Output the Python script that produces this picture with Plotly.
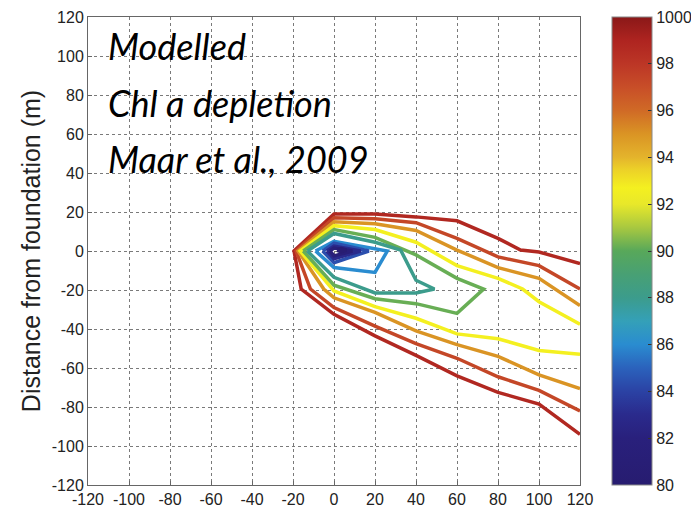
import plotly.graph_objects as go
from plotly.colors import sample_colorscale

# ---------------- data ----------------
x_ticks = [-120, -100, -80, -60, -40, -20, 0, 20, 40, 60, 80, 100, 120]
y_ticks = [-120, -100, -80, -60, -40, -20, 0, 20, 40, 60, 80, 100, 120]
tick_text = ["-120", "-100", "-80", "-60", "-40", "-20", "0", "20", "40", "60", "80", "100", "120"]
cbar_ticks = [80, 82, 84, 86, 88, 90, 92, 94, 96, 98, 100]
cbar_text = ["80", "82", "84", "86", "88", "90", "92", "94", "96", "98", "1000"]

# contour levels (Chl a, % of background)
levels = [98.8, 97.3, 95.0, 92.7, 90.2, 88.0, 86.0, 84.4, 83.0, 81.5, 80.5]

c1_x = [120, 100, 91, 80, 60, 40, 20, 0, -19.5, -16, 0, 20, 40, 60, 80, 100, 120]
c1_y = [-6.5, -0.5, 0.5, 6.5, 15.5, 17.5, 19, 19, 0, -19.5, -32.5, -43.5, -53.5, -64, -72.5, -78.5, -94]

c2_x = [120, 100, 80, 60, 40, 20, 0, -18.5, -11.5, 0, 20, 40, 60, 80, 100, 120]
c2_y = [-19.5, -7.5, -3, 6.5, 14.5, 16.5, 17, 0, -19.5, -29, -38.5, -47.5, -55, -64.5, -71.5, -82]

c3_x = [120, 100, 80, 60, 40, 20, 0, -17.5, -5, 0, 20, 40, 60, 80, 100, 120]
c3_y = [-28, -14, -8.5, 0.5, 10.5, 14, 15, 0, -19.5, -24, -31.5, -41, -48, -54, -63.5, -70.5]

c4_x = [120, 100, 92, 80, 60, 40, 20, 0, -16.5, 0, 20, 40, 60, 80, 100, 120]
c4_y = [-37.5, -26, -19.5, -14, -7.5, 4.5, 11, 13, 0, -20.5, -28.5, -34.5, -42.5, -45, -51, -53]

c5_x = [-15, 0, 20, 40, 60, 73, 60, 40, 20, 0, -15]
c5_y = [0, 11, 7, -2, -14, -19.5, -32, -27, -24.5, -17.5, 0]

c6_x = [-13, 0, 20, 32.5, 40, 49, 40, 20, 0, -13]
c6_y = [0, 9, 4.5, 0.5, -15, -19.5, -21.5, -21.5, -13.5, 0]

c7_x = [-9, 0, 26, 20, 0, -9]
c7_y = [0, 5, 0, -11, -8.5, 0]

c8_x = [-5.5, 0, 17, 0, -5.5]
c8_y = [0, 4, 0, -6, 0]

c9_x = [-3.5, 0, 13, 0, -3.5]
c9_y = [0, 2.5, 0, -4, 0]

c10_x = [-2, 0, 9, 0, -2]
c10_y = [0, 1.5, 0, -2.5, 0]

c11_x = [1.5, 3.5, 6, 3.5, 1.5]
c11_y = [0.3, 1.2, 0.5, -0.5, 0.3]

lines_x = [c1_x, c2_x, c3_x, c4_x, c5_x, c6_x, c7_x, c8_x, c9_x, c10_x, c11_x]
lines_y = [c1_y, c2_y, c3_y, c4_y, c5_y, c6_y, c7_y, c8_y, c9_y, c10_y, c11_y]

labels = ["Modelled", "Chl a depletion", "Maar et al., 2009"]

# ---------------- style ----------------
cmin, cmax = 80, 100
colorscale = [
    [0.00, "#271c70"], [0.10, "#29207c"], [0.15, "#2a2a8c"], [0.20, "#2b42a4"],
    [0.25, "#2b62bc"], [0.30, "#2a8cd0"], [0.35, "#34a0b8"], [0.40, "#3c9c8c"],
    [0.45, "#48a074"], [0.50, "#58a85a"], [0.55, "#a8c840"], [0.60, "#e8e82a"],
    [0.635, "#f4f020"], [0.675, "#ecd028"], [0.70, "#e4b42c"], [0.75, "#da9424"],
    [0.80, "#d06a26"], [0.85, "#c84e28"], [0.90, "#bc3626"], [0.95, "#ae2420"],
    [1.00, "#8a1818"],
]

fig = go.Figure()
for lv, xs, ys in zip(levels, lines_x, lines_y):
    col = sample_colorscale(colorscale, [(lv - cmin) / (cmax - cmin)])[0]
    fig.add_trace(go.Scatter(x=xs, y=ys, mode="lines",
                             line=dict(color=col, width=3.5),
                             showlegend=False, hoverinfo="skip"))

# colorbar carrier
fig.add_trace(go.Scatter(
    x=[None], y=[None], mode="markers", showlegend=False, hoverinfo="skip",
    marker=dict(color=[cmin], cmin=cmin, cmax=cmax, colorscale=colorscale,
                showscale=True,
                colorbar=dict(x=1.065, xanchor="left", xref="paper",
                              y=0.5, yanchor="middle", len=1.0, lenmode="fraction",
                              thickness=40, thicknessmode="pixels",
                              xpad=0, ypad=0,
                              outlinewidth=1, outlinecolor="#888",
                              tickvals=cbar_ticks, ticktext=cbar_text,
                              ticks="inside", ticklen=4, tickcolor="#333",
                              tickfont=dict(family="Liberation Sans", size=16, color="#222"))),
))

label_y = [105, 76, 47]
for txt, yy in zip(labels, label_y):
    fig.add_annotation(x=-111, y=yy, xref="x", yref="y", text=txt,
                       showarrow=False, xanchor="left", yanchor="middle",
                       font=dict(family="Lato", size=36, color="#000", style="italic"))

axis_common = dict(
    showgrid=True, gridcolor="#7a7a7a", gridwidth=1, griddash="3px,3px",
    zeroline=False, showline=True, linecolor="#666", linewidth=1, mirror=True,
    ticks="inside", ticklen=4, tickcolor="#666",
    tickfont=dict(family="Liberation Sans", size=16, color="#222"),
)

fig.update_layout(
    width=691, height=509,
    margin=dict(l=88, r=111, t=17, b=24, autoexpand=False),
    paper_bgcolor="white", plot_bgcolor="white",
    xaxis=dict(range=[-120, 120], tickvals=x_ticks, ticktext=tick_text, **axis_common),
    yaxis=dict(range=[-120, 120], tickvals=y_ticks, ticktext=tick_text,
               title=dict(text="Distance from foundation (m)", standoff=4,
                          font=dict(family="Liberation Sans", size=25, color="#222")),
               **axis_common),
)

fig.write_html("out.html")
